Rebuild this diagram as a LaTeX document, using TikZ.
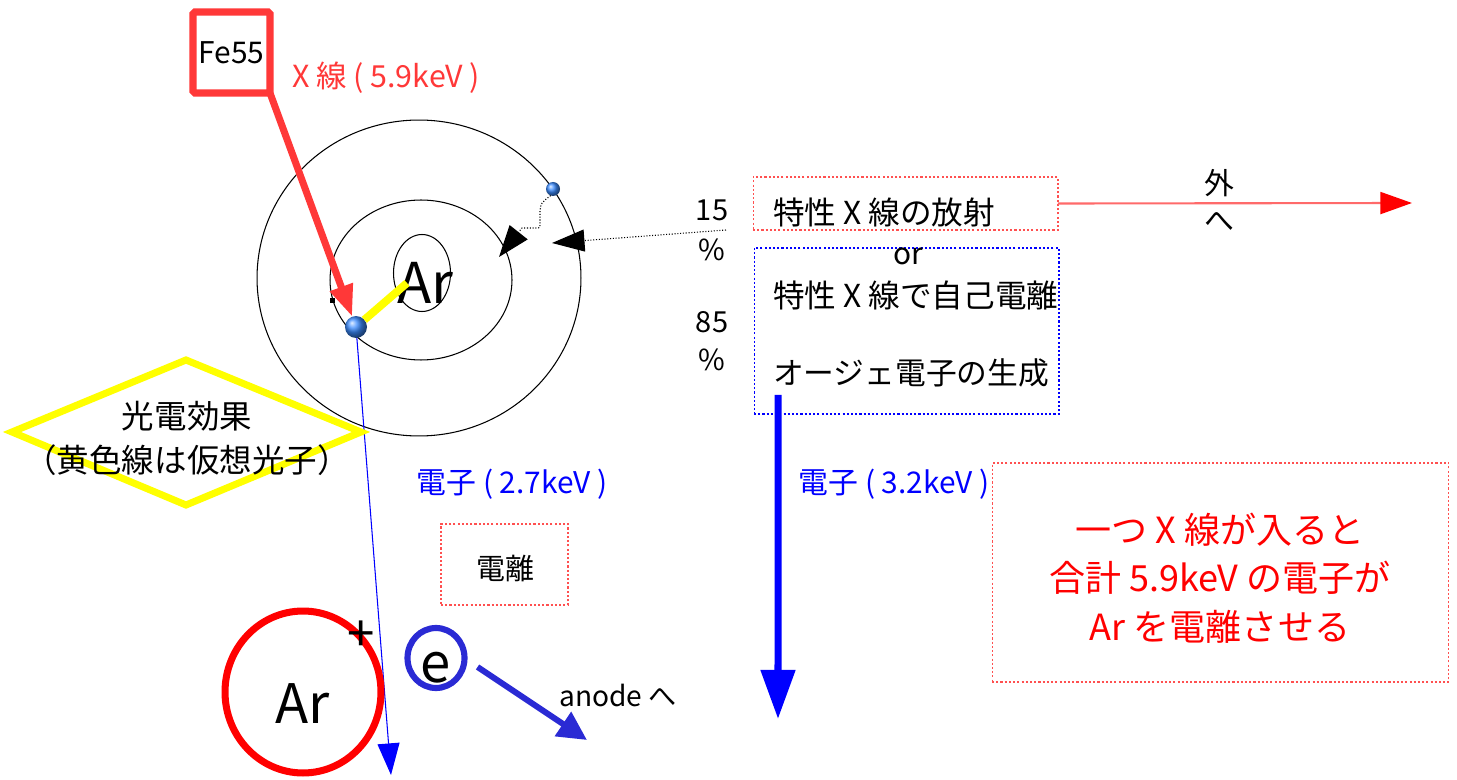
\documentclass[tikz,border=0pt]{standalone}
\usepackage{fontspec}
\setmainfont{Noto Sans CJK JP}
\usetikzlibrary{arrows.meta,shapes.geometric}
\definecolor{xred}{HTML}{FF3838}
\definecolor{pale}{HTML}{FF6A6A}
\definecolor{dotred}{HTML}{FF5050}
\definecolor{eblue}{HTML}{2A2AD4}
\definecolor{ylw}{HTML}{FFFF00}
\definecolor{ballblue}{HTML}{3C8CFF}
\tikzset{
  txt/.style={inner sep=0pt, outer sep=0pt},
  shell/.style={ellipse, draw=black, line width=0.6pt, inner sep=0pt, outer sep=0pt},
  dotbox/.style={draw, line width=0.6pt, dash pattern=on 1.2pt off 1.2pt, inner sep=0pt, outer sep=0pt},
  electron/.style={circle, shading=ball, ball color=ballblue, inner sep=0pt, outer sep=0pt},
}
\begin{document}
\begin{tikzpicture}[x=0.02cm,y=-0.02cm]
\useasboundingbox (0,0) rectangle (1457,780);

% atom: shells and nucleus
\node[shell, minimum width=6.48cm, minimum height=6.32cm] (shellL) at (419,278) {};
\node[shell, minimum width=3.64cm, minimum height=3.2cm] (shellK) at (421,280) {};
\node[shell, minimum width=1.14cm, minimum height=1.54cm] (nucleus) at (422,273) {};
\node[txt, font=\fontsize{32}{32}\selectfont] (arlab) at (425,283) {Ar};
\node[fill=black, minimum size=0.1cm, inner sep=0pt] (mark) at (332,301) {};

% source
\node[draw=xred, line width=4pt, rounded corners=1pt, minimum width=1.54cm, minimum height=1.62cm,
      inner sep=0pt, outer sep=0pt, font=\fontsize{17}{17}\selectfont] (fe) at (231.5,52.5) {Fe55};
\node[txt, text=xred, font=\fontsize{17.3}{18}\selectfont] (xlab) at (386,78) {X 線 ( 5.9keV )};

% electrons
\node[electron, minimum size=0.44cm] (e1) at (356,327) {};
\node[electron, minimum size=0.28cm] (e2) at (553,189) {};

% helper coordinates for free ends
\coordinate (ye) at (407,283);
\coordinate (bend) at (391,775);
\coordinate (wt) at (499,257);
\coordinate (pstart) at (726,230);
\coordinate (ptip) at (552,243);
\coordinate (outend) at (1412,203);
\coordinate (augend) at (778,719);
\coordinate (aend) at (587,740);
\coordinate (pc) at (186,432);

% incoming X-ray and virtual photon
\draw[xred, line width=4pt, -{Triangle[length=18pt,width=13pt]}] (fe.south east) -- (e1);
\draw[ylw, line width=4.5pt] (e1) -- (ye);
\draw[blue, line width=0.6pt, -{Triangle[length=18pt,width=12.5pt]}] (e1) -- (bend);

% transition from the outer shell
\draw[line width=0.6pt, densely dotted, -{Triangle[length=18pt,width=13pt]}]
  (e2.250) .. controls (541,203) .. (540,211) -- (540,224) .. controls (540,228) .. (536,228)
  -- (522,228) -- (wt);
\draw[line width=0.6pt, densely dotted, -{Triangle[length=18.5pt,width=12.5pt]}] (pstart) -- (ptip);

% branching ratios
\node[txt, font=\fontsize{16.5}{17}\selectfont] (p15) at (712,210) {15};
\node[txt, font=\fontsize{16.5}{17}\selectfont] (pc1) at (712,250) {\%};
\node[txt, font=\fontsize{16.5}{17}\selectfont] (p85) at (712,322) {85};
\node[txt, font=\fontsize{16.5}{17}\selectfont] (pc2) at (712,360) {\%};

% de-excitation boxes
\node[dotbox, draw=dotred, minimum width=6.1cm, minimum height=1.06cm] (boxA) at (905.5,203.5) {};
\node[dotbox, draw=blue, minimum width=6.1cm, minimum height=3.32cm] (boxB) at (906.5,331) {};
\node[txt, anchor=west, font=\fontsize{18}{18}\selectfont] (tA) at (773,213) {特性 X 線の放射};
\node[txt, font=\fontsize{17}{17}\selectfont] (tor) at (908,256) {or};
\node[txt, anchor=west, font=\fontsize{18}{18}\selectfont] (tB) at (773,295) {特性 X 線で自己電離};
\node[txt, anchor=west, font=\fontsize{17.5}{18}\selectfont] (tC) at (773,373) {オージェ電子の生成};

% escape to the outside
\draw[pale, line width=1.2pt, -{Triangle[length=18pt,width=12.5pt,color=red]}] (boxA.east) -- (outend);
\node[txt, font=\fontsize{17}{17}\selectfont] (so) at (1219,183) {外};
\node[txt, font=\fontsize{17}{17}\selectfont] (he) at (1219,222) {へ};

% Auger electron
\draw[blue, line width=4pt, -{Triangle[length=28pt,width=19pt]}]
  ([xshift=0.48cm,yshift=0.38cm]boxB.south west) -- (augend);
\node[txt, text=blue, font=\fontsize{17}{17}\selectfont] (l32) at (894,484) {電子 ( 3.2keV )};
\node[txt, text=blue, font=\fontsize{17}{17}\selectfont] (l27) at (512,484) {電子 ( 2.7keV )};

% photoelectric effect label
\draw[ylw, line width=4pt, line join=miter]
  ([shift={(-174,0)}]pc) -- ([shift={(0,-72)}]pc) -- ([shift={(175,0)}]pc)
  -- ([shift={(0,73)}]pc) -- cycle;
\node[txt, align=center, font=\fontsize{18.5}{25}\selectfont] (photo) at (187,438)
  {光電効果\\（黄色線は仮想光子）};

% ionisation
\node[dotbox, draw=dotred, minimum width=2.54cm, minimum height=1.62cm] (ionbox) at (504.5,564.5) {};
\node[txt, font=\fontsize{16.5}{17}\selectfont] (iont) at (505,568) {電離};

\node[ellipse, draw=red, line width=4pt, minimum width=3.12cm, minimum height=3.24cm, inner sep=0pt] (ion) at (303,692) {};
\node[txt, font=\fontsize{31}{31}\selectfont] (iontxt) at (303,704) {Ar};
\node[txt, font=\fontsize{28}{28}\selectfont] (plus) at (361,636) {+};

\node[ellipse, draw=eblue, line width=3.5pt, minimum width=1.14cm, minimum height=1.2cm, inner sep=0pt] (ecirc) at (436,658) {};
\node[txt, font=\fontsize{31}{31}\selectfont] (etxt) at (436,668) {e};
\draw[eblue, line width=3.4pt, -{Triangle[length=16.5pt,width=16pt]}] ([shift={(10,9)}]ecirc.east) -- (aend);
\node[txt, font=\fontsize{16}{16}\selectfont] (anode) at (618,695) {anode へ};

% summary
\node[dotbox, draw=dotred, minimum width=9.14cm, minimum height=4.38cm] (sumbox) at (1220.5,572.5) {};
\node[txt, text=red, align=center, font=\fontsize{20.5}{27.5}\selectfont] (sumtxt) at (1220,578)
  {一つ X 線が入ると\\合計 5.9keV の電子が\\Ar を電離させる};
\end{tikzpicture}
\end{document}
